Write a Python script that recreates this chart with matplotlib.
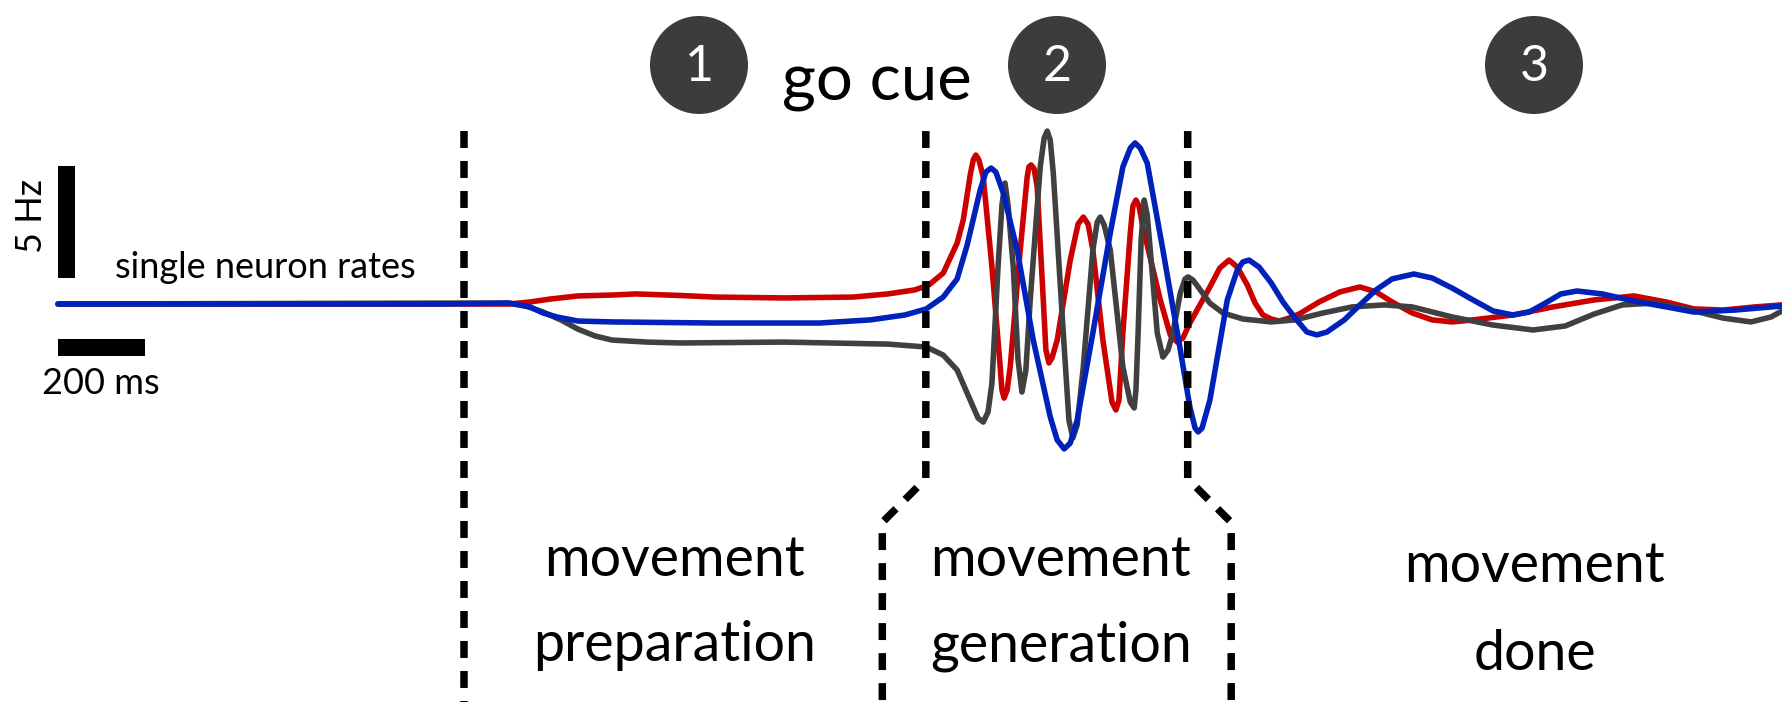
import matplotlib

matplotlib.use("Agg")
import matplotlib.pyplot as plt
from matplotlib.patches import Circle, Rectangle

# Rates: time in ms from trace start, rate change in Hz.
RED_T = [0, 878, 1037, 1085, 1131, 1195, 1274, 1329, 1430, 1510, 1669, 1828, 1908, 1970, 2002,
         2035, 2067, 2081, 2090, 2097, 2104, 2110, 2117, 2127, 2147, 2166, 2170, 2175, 2182, 2189,
         2212, 2228, 2232, 2237, 2244, 2251, 2265, 2271, 2278, 2285, 2297, 2327, 2345, 2357, 2368,
         2379, 2402, 2423, 2432, 2439, 2448, 2465, 2471, 2478, 2485, 2494, 2534, 2557, 2573, 2586,
         2602, 2648, 2671, 2692, 2711, 2734, 2752, 2770, 2789, 2807, 2830, 2853, 2899, 2947, 2993,
         3030, 3067, 3113, 3159, 3205, 3253, 3345, 3437, 3531, 3623, 3697, 3761, 3828, 3901, 3963]
RED_R = [0, 0, 0, 0.09, 0.22, 0.36, 0.40, 0.45, 0.38, 0.31, 0.27, 0.31, 0.45, 0.63, 0.85,
         1.38, 2.72, 3.75, 4.87, 5.76, 6.43, 6.65, 6.43, 5.67, 1.65, -2.81, -3.84, -4.20, -3.84, -2.81,
         2.41, 5.67, 6.12, 6.21, 6.03, 5.22, 0.18, -2.05, -2.63, -2.41, -1.61, 1.96, 3.57, 3.88, 3.57,
         2.41, -1.61, -4.38, -4.73, -4.29, -1.29, 3.17, 4.38, 4.64, 4.38, 3.44, 0.18, -1.38, -1.70, -1.52,
         -0.85, 0.76, 1.61, 1.96, 1.65, 0.85, 0.04, -0.49, -0.67, -0.76, -0.63, -0.45, 0.09, 0.54, 0.76,
         0.54, 0.09, -0.40, -0.71, -0.80, -0.71, -0.49, -0.13, 0.18, 0.36, 0.09, -0.22, -0.27, -0.13, -0.04]

BLUE_T = [0, 878, 1037, 1085, 1115, 1147, 1195, 1274, 1510, 1750, 1867, 1947, 1996, 2035, 2067,
          2090, 2108, 2120, 2133, 2145, 2156, 2173, 2205, 2242, 2281, 2297, 2313, 2327, 2343, 2379,
          2419, 2448, 2465, 2476, 2488, 2504, 2540, 2580, 2602, 2614, 2621, 2630, 2648, 2688, 2711,
          2724, 2738, 2761, 2789, 2816, 2844, 2871, 2894, 2917, 2957, 2993, 3030, 3067, 3117, 3159,
          3205, 3253, 3299, 3345, 3382, 3419, 3455, 3492, 3550, 3623, 3697, 3761, 3855, 3963]
BLUE_R = [0, 0, 0.04, -0.13, -0.40, -0.58, -0.76, -0.80, -0.85, -0.85, -0.71, -0.49, -0.22, 0.31, 1.12,
          2.63, 4.11, 5.09, 5.89, 6.07, 5.89, 4.96, 2.41, -1.61, -5.04, -6.07, -6.47, -6.21, -5.18, -1.29,
          3.17, 6.12, 6.96, 7.19, 6.96, 6.29, 2.41, -2.05, -4.60, -5.54, -5.71, -5.54, -4.29, 0.18, 1.52,
          1.88, 1.96, 1.65, 0.94, 0.09, -0.63, -1.25, -1.38, -1.25, -0.71, -0.04, 0.63, 1.12, 1.34, 1.16,
          0.71, 0.18, -0.31, -0.49, -0.36, 0.04, 0.45, 0.58, 0.45, 0.13, -0.13, -0.36, -0.27, -0.09]

BLACK_T = [0, 878, 1037, 1076, 1115, 1156, 1195, 1235, 1274, 1354, 1432, 1669, 1908, 1996, 2035,
           2067, 2097, 2115, 2127, 2138, 2147, 2161, 2170, 2177, 2184, 2196, 2207, 2216, 2225, 2235,
           2258, 2267, 2274, 2281, 2288, 2311, 2324, 2333, 2343, 2357, 2379, 2389, 2396, 2405, 2419,
           2448, 2465, 2474, 2478, 2483, 2490, 2497, 2504, 2511, 2527, 2540, 2552, 2563, 2580, 2591,
           2598, 2609, 2621, 2648, 2678, 2724, 2789, 2844, 2908, 2975, 3049, 3113, 3205, 3299, 3391,
           3465, 3531, 3596, 3669, 3743, 3828, 3892, 3938, 3963]
BLACK_R = [0, 0.04, 0.04, -0.09, -0.36, -0.71, -1.12, -1.43, -1.61, -1.70, -1.74, -1.70, -1.79, -1.92, -2.28,
           -2.95, -4.29, -5.09, -5.27, -4.82, -3.53, 1.65, 4.42, 5.40, 4.42, 1.65, -2.50, -3.93, -2.95, 0.18,
           6.12, 7.41, 7.72, 7.32, 5.85, -1.29, -5.18, -5.98, -5.40, -2.81, 2.41, 3.66, 3.88, 3.53, 2.41,
           -2.81, -4.38, -4.64, -3.84, -1.29, 2.86, 4.64, 3.97, 2.41, -1.29, -2.37, -2.05, -1.29, 0.49, 1.12,
           1.21, 1.07, 0.76, 0.04, -0.40, -0.67, -0.80, -0.71, -0.40, -0.13, -0.04, -0.13, -0.58, -0.94, -1.16,
           -0.98, -0.45, -0.04, 0.04, -0.22, -0.63, -0.80, -0.58, -0.31]

EVENT_T = [933, 1995, 2597]          # target on, go cue, movement end (ms)
PHASE_LINES = [["movement", "preparation"], ["movement", "generation"], ["movement", "done"]]
PHASE_NUMBERS = ["1", "2", "3"]
SCALE_MS = 200
SCALE_HZ = 5

RED, BLUE, GREY = "#cc0000", "#0022bb", "#404040"
FONT = "Lato"

W, H = 1782, 702
plt.rcParams["lines.scale_dashes"] = False
fig = plt.figure(figsize=(W / 100, H / 100), dpi=100)

# data axes: 0.435 px per ms, 22.4 px per Hz, trace origin at pixel (58, 304)
ax = fig.add_axes([0, 0, 1, 1])
ax.set_xlim(-58 / 0.435, (W - 58) / 0.435)
ax.set_ylim(-(H - 304) / 22.4, 304 / 22.4)
ax.axis("off")

# overlay in pixel units (y down) for labels and badges
ov = fig.add_axes([0, 0, 1, 1])
ov.set_xlim(0, W)
ov.set_ylim(H, 0)
ov.set_aspect("equal")
ov.axis("off")
ov.patch.set_alpha(0)

lw = 4.0
for t, r, c in ((RED_T, RED_R, RED), (BLACK_T, BLACK_R, GREY), (BLUE_T, BLUE_R, BLUE)):
    ax.plot(t, r, color=c, lw=lw, solid_joinstyle="round", solid_capstyle="round", zorder=3)

# event lines; the last two bend outwards around the "movement generation" label
dash = dict(color="black", lw=5.4, linestyle=(0, (12.2, 9.4)), zorder=5)
top, knee1, knee2, bottom = 7.72, -7.8, -9.75, ax.get_ylim()[0]
ax.plot([EVENT_T[0]] * 2, [top, bottom], **dash)
ax.plot([EVENT_T[1], EVENT_T[1], EVENT_T[1] - 100, EVENT_T[1] - 100], [top, knee1, knee2, bottom], **dash)
ax.plot([EVENT_T[2], EVENT_T[2], EVENT_T[2] + 100, EVENT_T[2] + 100], [top, knee1, knee2, bottom], **dash)

# scale bars
bar_w = 17 / 0.435
bar_h = 17 / 22.4
ax.add_patch(Rectangle((0, 1.16), bar_w, SCALE_HZ, color="black", lw=0))
ax.add_patch(Rectangle((0, -2.32), SCALE_MS, bar_h, color="black", lw=0))
ov.text(32, 216, f"{SCALE_HZ} Hz", rotation=90, ha="center", va="center", fontsize=26, family=FONT)
ov.text(101, 383, f"{SCALE_MS} ms", ha="center", va="center", fontsize=26, family=FONT)
ov.text(265, 278, "single neuron rates", ha="center", va="baseline", fontsize=26, family=FONT)

ov.text(877, 100, "go cue", ha="center", va="baseline", fontsize=47, family=FONT)

centers = [675, 1061, 1535]
baselines = [(576, 661), (576, 661), (582, 670)]
for cx, lines, (b1, b2) in zip(centers, PHASE_LINES, baselines):
    ov.text(cx, b1, lines[0], ha="center", va="baseline", fontsize=40, family=FONT)
    ov.text(cx, b2, lines[1], ha="center", va="baseline", fontsize=40, family=FONT)

for cx, num in zip([699, 1057, 1534], PHASE_NUMBERS):
    ov.add_patch(Circle((cx, 65), 49, color="#3c3c3c", lw=0))
    ov.text(cx, 67, num, ha="center", va="center", fontsize=36, family=FONT, color="white")

fig.savefig("out.png", dpi=100)
